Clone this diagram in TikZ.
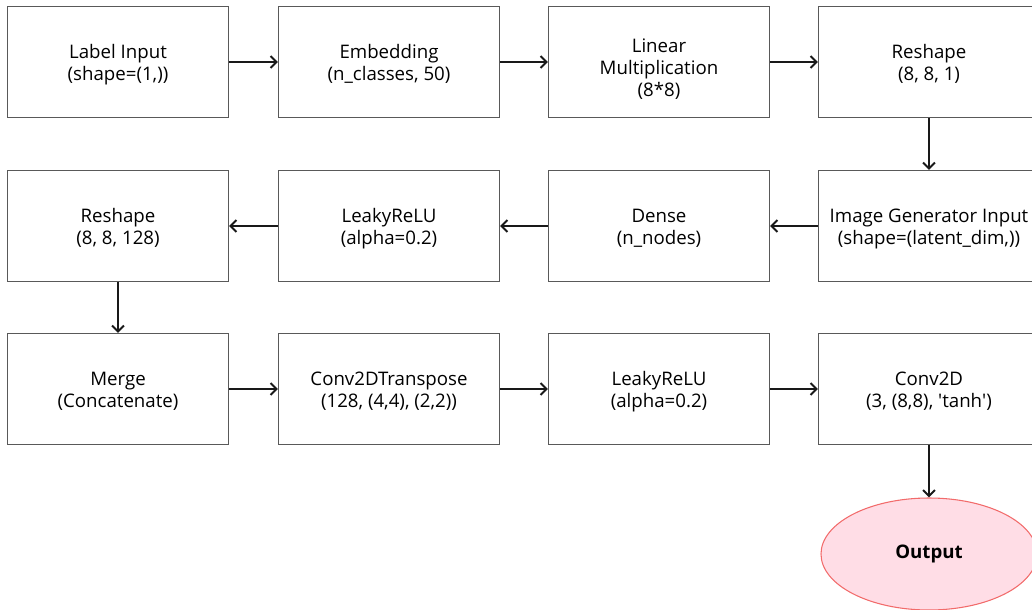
\documentclass[tikz,border=0pt]{standalone}
\usepackage{fontspec}
\setmainfont{Open Sans}
\usetikzlibrary{arrows.meta,shapes.geometric}
\definecolor{outfill}{HTML}{FFDDE6}
\definecolor{outline}{HTML}{F26B6B}
% stacked, centred lines of a layer caption, lowered without changing the box size
\newcommand{\caplines}[2][2.25pt]{\raisebox{-#1}[\height][\depth]{\begin{tabular}{@{}c@{}}#2\end{tabular}}}
\begin{document}
\begin{tikzpicture}[x=0.75pt,y=-0.75pt,
  layer/.style={draw=black!65,line width=0.8pt,minimum width=221*0.75pt,minimum height=111*0.75pt,
    inner sep=0pt,font=\fontsize{14pt}{16.5pt}\selectfont},
  flow/.style={draw=black!90,line width=1.5pt,-{Straight Barb[length=4.5pt,width=9pt,line width=1.5pt]}},
  outnode/.style={ellipse,draw=outline,fill=outfill,line width=0.8pt,minimum width=216*0.75pt,
    minimum height=112*0.75pt,font=\bfseries\fontsize{14pt}{16.5pt}\selectfont}]
\useasboundingbox (0,0) rectangle (1032,610);
% row 1
\node[layer] (lab) at (118,62) {\caplines{Label Input\\(shape=(1,))}};
\node[layer] (emb) at (389,62) {\caplines{Embedding\\(n\_classes, 50)}};
\node[layer] (lin) at (659,62) {\caplines[6pt]{Linear\\Multiplication\\(8*8)}};
\node[layer] (rs1) at (929,62) {\caplines{Reshape\\(8, 8, 1)}};
% row 2
\node[layer] (rs2) at (118,226) {\caplines{Reshape\\(8, 8, 128)}};
\node[layer] (lr1) at (389,226) {\caplines{LeakyReLU\\(alpha=0.2)}};
\node[layer] (den) at (659,226) {\caplines{Dense\\(n\_nodes)}};
\node[layer] (img) at (929,226) {\caplines{Image Generator Input\\(shape=(latent\_dim,))}};
% row 3
\node[layer] (mrg) at (118,389) {\caplines{Merge\\(Concatenate)}};
\node[layer] (cvt) at (389,389) {\caplines{Conv2DTranspose\\(128, (4,4), (2,2))}};
\node[layer] (lr2) at (659,389) {\caplines{LeakyReLU\\(alpha=0.2)}};
\node[layer] (cv2) at (929,389) {\caplines{Conv2D\\(3, (8,8), \textquotesingle tanh\textquotesingle)}};
% output
\node[outnode] (out) at (929,554) {Output};
% connectors
\draw[flow] (lab) -- (emb);
\draw[flow] (emb) -- (lin);
\draw[flow] (lin) -- (rs1);
\draw[flow] (rs1) -- (img);
\draw[flow] (img) -- (den);
\draw[flow] (den) -- (lr1);
\draw[flow] (lr1) -- (rs2);
\draw[flow] (rs2) -- (mrg);
\draw[flow] (mrg) -- (cvt);
\draw[flow] (cvt) -- (lr2);
\draw[flow] (lr2) -- (cv2);
\draw[flow] (cv2) -- (out);
\end{tikzpicture}
\end{document}
